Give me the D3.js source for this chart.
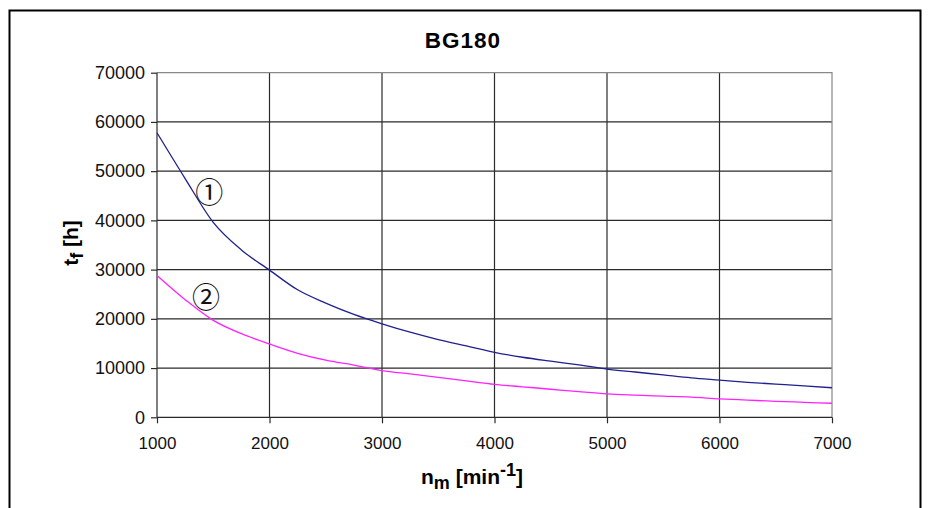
<!DOCTYPE html>
<html>
<head>
<meta charset="utf-8">
<script src="https://cdn.jsdelivr.net/npm/d3@7"></script>
<style>
  html, body { margin: 0; padding: 0; background: #fff; }
  svg { display: block; font-family: "Liberation Sans", Arial, sans-serif; }
</style>
</head>
<body>
<svg id="chart" width="928" height="508"></svg>
<script>
const title = "BG180";
const speeds = [1000, 1250, 1500, 1750, 2000, 2250, 2500, 2750, 3000, 3250, 3500, 3750, 4000,
                4250, 4500, 4750, 5000, 5250, 5500, 5750, 6000, 6250, 6500, 6750, 7000];
const series1 = [57800, 48500, 39600, 34000, 29900, 25900, 23200, 20900, 19000, 17300, 15800, 14500, 13200,
                 12200, 11400, 10650, 9800, 9200, 8600, 8000, 7550, 7100, 6750, 6400, 6000];
const series2 = [28800, 23900, 19700, 17000, 14900, 13000, 11600, 10600, 9500, 8800, 8100, 7400, 6700,
                 6200, 5700, 5200, 4750, 4500, 4300, 4100, 3750, 3500, 3250, 3050, 2850];
const xTicks = [1000, 2000, 3000, 4000, 5000, 6000, 7000];
const yTicks = [0, 10000, 20000, 30000, 40000, 50000, 60000, 70000];
const curveLabels = [
  { text: "\u2460", x: 1465, y: 46000 },
  { text: "\u2461", x: 1435, y: 24600 }
];

const svg = d3.select("#chart");
const pL = 157, pR = 832, pT = 72.7, pB = 417.3;

const x = d3.scaleLinear().domain([1000, 7000]).range([pL, pR]);
const y = d3.scaleLinear().domain([0, 70000]).range([pB, pT]);

// outer frame
svg.append("rect")
  .attr("x", 9.5).attr("y", 10.5).attr("width", 911).attr("height", 520)
  .attr("fill", "none").attr("stroke", "#000").attr("stroke-width", 2);

// title
svg.append("text")
  .attr("x", 463).attr("y", 47.5)
  .attr("text-anchor", "middle")
  .attr("font-size", 22.5).attr("font-weight", "bold")
  .attr("letter-spacing", 1)
  .text(title);

// gridlines
const grid = svg.append("g");
grid.selectAll("line.h").data(yTicks.filter(d => d > 0 && d < 70000)).join("line")
  .attr("x1", pL).attr("x2", pR)
  .attr("y1", d => y(d)).attr("y2", d => y(d))
  .attr("stroke", "#2a2a2a").attr("stroke-width", 1.2);
grid.selectAll("line.v").data(xTicks.filter(d => d > 1000 && d < 7000)).join("line")
  .attr("y1", pT).attr("y2", pB)
  .attr("x1", d => x(d)).attr("x2", d => x(d))
  .attr("stroke", "#2a2a2a").attr("stroke-width", 1.2);
// top and right plot border (lighter)
svg.append("path")
  .attr("d", `M${pL},${pT}H${pR}V${pB}`)
  .attr("fill", "none").attr("stroke", "#888").attr("stroke-width", 1.2);

// axes
const xAxis = d3.axisBottom(x).tickValues(xTicks).tickSize(6).tickPadding(14).tickFormat(d3.format("d"));
const gx = svg.append("g").attr("transform", `translate(0,${pB})`).call(xAxis);
gx.select(".domain").attr("stroke", "#2a2a2a").attr("stroke-width", 1.2).attr("d", `M${pL},0H${pR}`);
gx.selectAll(".tick line").attr("stroke", "#2a2a2a").attr("stroke-width", 1.2);
gx.selectAll(".tick text").attr("font-size", 17).attr("fill", "#111")
  .attr("font-family", "'Liberation Sans', Arial, sans-serif");

const yAxis = d3.axisLeft(y).tickValues(yTicks).tickSize(6).tickPadding(6).tickFormat(d3.format("d"));
const gy = svg.append("g").attr("transform", `translate(${pL},0)`).call(yAxis);
gy.select(".domain").attr("stroke", "#2a2a2a").attr("stroke-width", 1.2).attr("d", `M0,${pT}V${pB}`);
gy.selectAll(".tick line").attr("stroke", "#2a2a2a").attr("stroke-width", 1.2);
gy.selectAll(".tick text").attr("font-size", 18).attr("fill", "#111")
  .attr("font-family", "'Liberation Sans', Arial, sans-serif");

// lines
const line = d3.line().x((d, i) => x(speeds[i])).y(d => y(d)).curve(d3.curveMonotoneX);
svg.append("path").datum(series2).attr("d", line)
  .attr("fill", "none").attr("stroke", "#ff22ff").attr("stroke-width", 1.3);
svg.append("path").datum(series1).attr("d", line)
  .attr("fill", "none").attr("stroke", "#20208f").attr("stroke-width", 1.3);

// curve labels
svg.selectAll("text.cl").data(curveLabels).join("text")
  .attr("class", "cl")
  .attr("x", d => x(d.x)).attr("y", d => y(d.y))
  .attr("text-anchor", "middle").attr("dominant-baseline", "central")
  .attr("font-family", "'Noto Sans CJK JP', 'Noto Sans CJK SC', sans-serif")
  .attr("font-size", 28)
  .attr("fill", "#111")
  .text(d => d.text);

// x axis label
const xl = svg.append("text")
  .attr("x", 472).attr("y", 484)
  .attr("text-anchor", "middle")
  .attr("font-size", 21).attr("font-weight", "bold");
xl.append("tspan").text("n");
xl.append("tspan").attr("dy", 5).attr("font-size", 18).text("m");
xl.append("tspan").attr("dy", -5).text(" [min");
xl.append("tspan").attr("dy", -8).attr("font-size", 18).text("-1");
xl.append("tspan").attr("dy", 8).text("]");

// y axis label
const yl = svg.append("text")
  .attr("transform", "translate(78,243) rotate(-90)")
  .attr("text-anchor", "middle")
  .attr("font-size", 21).attr("font-weight", "bold");
yl.append("tspan").text("t");
yl.append("tspan").attr("dy", 5).attr("font-size", 18).text("f");
yl.append("tspan").attr("dy", -5).text(" [h]");
</script>
</body>
</html>
